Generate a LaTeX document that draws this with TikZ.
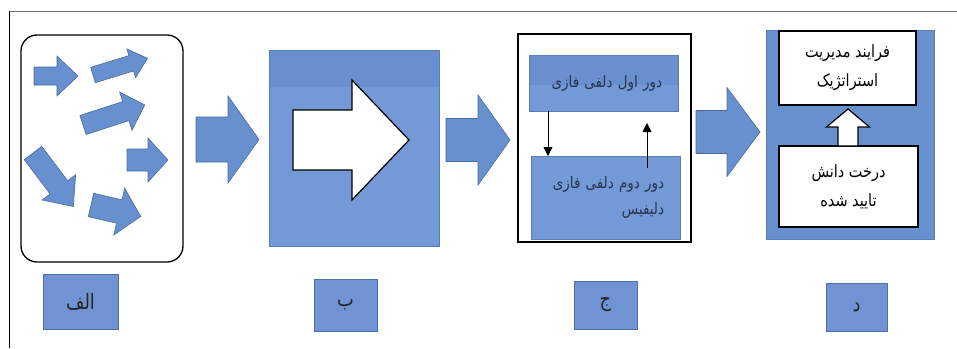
\documentclass[tikz,border=0pt]{standalone}
\usepackage{fontspec}
\newfontfamily\arabicfont[Script=Arabic, FakeStretch=0.85]{DejaVu Sans}
\TeXXeTstate=1
\usetikzlibrary{arrows.meta}
\definecolor{arrfill}{HTML}{6690CE}
\definecolor{arrline}{HTML}{4A6BA3}
\definecolor{lightblue}{HTML}{7399D6}
\definecolor{bandblue}{HTML}{6A8FCF}
\definecolor{labfill}{HTML}{6F93D3}
\definecolor{labline}{HTML}{4F6FA8}
\definecolor{boxline}{HTML}{5A7DB8}
\definecolor{navytext}{HTML}{26344F}
\definecolor{framegray}{HTML}{707070}
\tikzset{
  pics/barrow/.style n args={4}{code={
    \path[pic actions] (0,-#2) -- (#1-#4,-#2) -- (#1-#4,-#3) -- (#1,0)
      -- (#1-#4,#3) -- (#1-#4,#2) -- (0,#2) -- cycle;}},
  bluearrow/.style={fill=arrfill, draw=arrline, line width=0.6pt},
  whitearrow/.style={fill=white, draw=black, line width=1.2pt},
  labelbox/.style={draw=labline, fill=labfill, line width=0.8pt, inner sep=0pt,
    outer sep=0pt, anchor=north west, text=black!85,
    font=\arabicfont\fontsize{21}{22}\selectfont},
  outerbox/.style={draw=black, fill=white, line width=1.3pt, inner sep=0pt,
    outer sep=0pt, anchor=north west},
  roundbox/.style={outerbox, rounded corners=16pt},
  bluepanel/.style={draw=boxline, line width=0.6pt, inner sep=0pt, outer sep=0pt,
    anchor=north west},
  ctext/.style={align=right, text width=117pt, text=navytext,
    font=\arabicfont\fontsize{15.8}{26}\selectfont},
  dtext/.style={align=center, font=\arabicfont\fontsize{17}{29}\selectfont},
  link/.style={draw=black, line width=0.8pt, -{Triangle[length=9pt,width=9pt]}}
}
\begin{document}
\begin{tikzpicture}[x=1pt,y=-1pt]
\useasboundingbox (0,0) rectangle (957,348);
\fill[white] (0,0) rectangle (957,348);
% frame
\draw[framegray, line width=0.8pt] (9,11) -- (957,11);
\draw[black, line width=0.9pt] (9,348) -- (9,11);

% panel A
\node[roundbox, minimum width=162pt, minimum height=227pt] (pa) at (21,35) {};
\pic[bluearrow] at (34,76) {barrow={44}{9}{20}{21}};
\pic[bluearrow, rotate=17] at (93,75) {barrow={57}{8}{15}{17}};
\pic[bluearrow, rotate=18] at (83,125) {barrow={65}{10}{20}{20}};
\pic[bluearrow] at (127,160) {barrow={41}{11}{22}{20}};
\pic[bluearrow, rotate=-53] at (33,153) {barrow={67}{11}{21}{24}};
\pic[bluearrow, rotate=-13] at (91,205) {barrow={51}{12}{24}{22}};
\node[labelbox, minimum width=75pt, minimum height=55pt] (la) at (43,274) {\beginR الف\endR};

% arrow A -> B
\pic[bluearrow] at (196,139.5) {barrow={63}{22.5}{43.5}{31}};

% panel B
\node[bluepanel, fill=lightblue, minimum width=170pt, minimum height=196pt,
  path picture={\fill[bandblue] (path picture bounding box.north west) rectangle
    ([yshift=-37pt]path picture bounding box.north east);}] (pb) at (269,50) {};
\pic[whitearrow] at (293,140) {barrow={116}{30}{60}{57}};
\node[labelbox, minimum width=63pt, minimum height=52pt] (lb) at (314,279) {\beginR ب\endR};

% arrow B -> C
\pic[bluearrow] at (446,140) {barrow={64}{21.5}{45}{32}};

% panel C
\node[outerbox, minimum width=173pt, minimum height=208pt] (pc) at (518,34) {};
\node[bluepanel, fill=lightblue, minimum width=149pt, minimum height=56pt, ctext,
  path picture={\fill[bandblue] (path picture bounding box.north west) rectangle
    ([yshift=-30pt]path picture bounding box.north east);}] (c1) at (529,55)
  {\beginR دور اول دلفی فازی\endR};
\node[bluepanel, fill=lightblue, minimum width=149pt, minimum height=83pt, ctext]
  (c2) at (531,156) {\beginR دور دوم دلفی فازی\endR\\\beginR دلیفیس\endR};
\coordinate (downx) at (548,111);
\draw[link] (downx) -- (downx |- c2.north);
\coordinate (upstart) at (647,168);
\coordinate (upend) at (647,123);
\draw[link] (upstart) -- (upend);
\node[labelbox, minimum width=63pt, minimum height=48pt] (lc) at (574,281) {\beginR ج\endR};

% arrow C -> D
\pic[bluearrow] at (696,132) {barrow={64}{21.5}{44.5}{33}};

% panel D
\node[bluepanel, fill=arrfill, minimum width=168pt, minimum height=209pt] (pd) at (766,30) {};
\node[outerbox, minimum width=137pt, minimum height=74pt, dtext] (d1) at (779,31)
  {\beginR فرایند مدیریت\endR\\\beginR استراتژیک\endR};
\node[outerbox, minimum width=139pt, minimum height=81pt, dtext] (d2) at (779,146)
  {\beginR درخت دانش\endR\\\beginR تایید شده\endR};
\pic[whitearrow, rotate=90] at (848,146) {barrow={37}{10}{21.5}{18}};
\node[labelbox, minimum width=61pt, minimum height=48pt] (ld) at (826,283) {\beginR د\endR};
\end{tikzpicture}
\end{document}
